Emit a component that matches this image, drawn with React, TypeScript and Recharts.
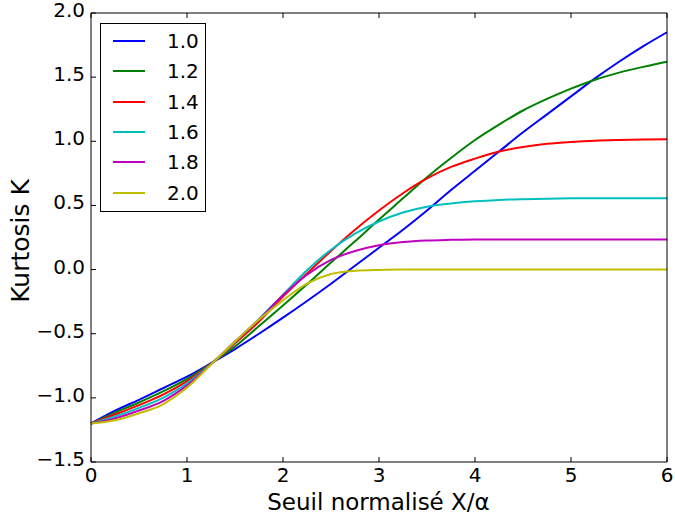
import React from 'react';
import { LineChart, Line, XAxis, YAxis } from 'recharts';

// seuil normalisé X/α
const xs = [0, 0.25, 0.5, 0.75, 1, 1.25, 1.5, 1.75, 2, 2.25, 2.5, 2.75, 3, 3.25, 3.5, 3.75, 4, 4.25, 4.5, 4.75, 5, 5.25, 5.5, 5.75, 6];

// kurtosis pour chaque valeur de beta
const k10 = [-1.2, -1.1, -1.015, -0.925, -0.835, -0.73, -0.62, -0.5, -0.375, -0.245, -0.11, 0.03, 0.17, 0.31, 0.46, 0.62, 0.77, 0.92, 1.07, 1.21, 1.35, 1.49, 1.62, 1.74, 1.85];
const k12 = [-1.2, -1.115, -1.036, -0.95, -0.852, -0.732, -0.6, -0.44, -0.28, -0.115, 0.055, 0.22, 0.39, 0.555, 0.72, 0.87, 1.01, 1.13, 1.24, 1.33, 1.41, 1.48, 1.535, 1.58, 1.62];
const k14 = [-1.2, -1.13, -1.057, -0.975, -0.869, -0.734, -0.575, -0.405, -0.21, -0.03, 0.145, 0.31, 0.46, 0.595, 0.71, 0.8, 0.865, 0.92, 0.955, 0.98, 0.995, 1.005, 1.01, 1.013, 1.015];
const k16 = [-1.2, -1.145, -1.078, -1.0, -0.886, -0.736, -0.565, -0.385, -0.195, -0.005, 0.155, 0.28, 0.375, 0.445, 0.49, 0.515, 0.532, 0.543, 0.549, 0.553, 0.555, 0.556, 0.556, 0.556, 0.556];
const k18 = [-1.2, -1.16, -1.099, -1.025, -0.903, -0.738, -0.56, -0.39, -0.2, -0.04, 0.075, 0.145, 0.19, 0.215, 0.227, 0.232, 0.235, 0.235, 0.235, 0.235, 0.235, 0.235, 0.235, 0.235, 0.235];
const k20 = [-1.2, -1.175, -1.12, -1.05, -0.92, -0.74, -0.56, -0.39, -0.24, -0.11, -0.035, -0.01, -0.003, 0, 0, 0, 0, 0, 0, 0, 0, 0, 0, 0, 0];

const xTicks = [0, 1, 2, 3, 4, 5, 6];
const yTicks = [-1.5, -1.0, -0.5, 0.0, 0.5, 1.0, 1.5, 2.0];

const series = [
  { key: 'k10', name: '1.0', color: '#0000ff', values: k10 },
  { key: 'k12', name: '1.2', color: '#008000', values: k12 },
  { key: 'k14', name: '1.4', color: '#ff0000', values: k14 },
  { key: 'k16', name: '1.6', color: '#00bfbf', values: k16 },
  { key: 'k18', name: '1.8', color: '#bf00bf', values: k18 },
  { key: 'k20', name: '2.0', color: '#bfbf00', values: k20 },
];

const data = xs.map((x, i) => {
  const row: Record<string, number> = { x };
  series.forEach(s => { row[s.key] = s.values[i]; });
  return row;
});

const FONT = '"DejaVu Sans", sans-serif';
const TICK_MARGIN = 8;

const fmtY = (v: number) => v.toFixed(1).replace('-', '\u2212');

const BottomTick = ({ x, y, payload }: any) => (
  <g>
    <line x1={x} x2={x} y1={y - TICK_MARGIN} y2={y - TICK_MARGIN - 5} stroke="#000" />
    <text x={x} y={y + 12} textAnchor="middle" fontSize={20} fontFamily={FONT} fill="#000">{payload.value}</text>
  </g>
);

const TopTick = ({ x, y }: any) => (
  <line x1={x} x2={x} y1={y} y2={y + 5} stroke="#000" />
);

const LeftTick = ({ x, y, payload }: any) => (
  <g>
    <line x1={x + TICK_MARGIN} x2={x + TICK_MARGIN + 5} y1={y} y2={y} stroke="#000" />
    <text x={x + 2} y={y + 4} textAnchor="end" fontSize={20} fontFamily={FONT} fill="#000">{fmtY(payload.value)}</text>
  </g>
);

const RightTick = ({ x, y }: any) => (
  <line x1={x} x2={x - 5} y1={y} y2={y} stroke="#000" />
);

const YLabel = () => (
  <text x={28.5} y={241} transform="rotate(-90, 28.5, 241)" textAnchor="middle" fontSize={25} fontFamily={FONT} fill="#000">Kurtosis K</text>
);

const XLabel = () => (
  <text x={378.5} y={510} textAnchor="middle" fontSize={23} fontFamily={FONT} fill="#000">Seuil normalisé X/α</text>
);

const LegendBox = () => (
  <div style={{ position: 'absolute', left: 100, top: 23, border: '1px solid #000', background: '#fff', width: 106, height: 189, boxSizing: 'border-box' }}>
    {series.map((s, i) => (
      <div key={s.key} style={{ position: 'absolute', left: 12, top: 6 + i * 30.3, height: 22, display: 'flex', alignItems: 'center' }}>
        <div style={{ width: 32, height: 2, background: s.color }} />
        <span style={{ marginLeft: 22, fontSize: 20, fontFamily: FONT, color: '#000', lineHeight: '22px' }}>{s.name}</span>
      </div>
    ))}
  </div>
);

export default function App() {
  return (
    <div style={{ position: 'absolute', left: 0, top: 0, width: 675, height: 516, background: '#fff' }}>
      <LineChart width={675} height={516} data={data} margin={{ top: 12, right: 7, bottom: 0, left: 0 }}>
        <XAxis
          xAxisId="bottom"
          dataKey="x"
          type="number"
          domain={[0, 6]}
          ticks={xTicks}
          interval={0}
          height={54}
          stroke="#000"
          tickLine={false}
          tickSize={0}
          tickMargin={TICK_MARGIN}
          tick={<BottomTick />}
          label={<XLabel />}
        />
        <XAxis
          xAxisId="top"
          orientation="top"
          dataKey="x"
          type="number"
          domain={[0, 6]}
          ticks={xTicks}
          interval={0}
          height={1}
          stroke="#000"
          tickLine={false}
          tickSize={0}
          tickMargin={0}
          tick={<TopTick />}
        />
        <YAxis
          yAxisId="left"
          type="number"
          domain={[-1.5, 2]}
          ticks={yTicks}
          interval={0}
          width={91}
          stroke="#000"
          tickLine={false}
          tickSize={0}
          tickMargin={TICK_MARGIN}
          tick={<LeftTick />}
          label={<YLabel />}
        />
        <YAxis
          yAxisId="right"
          orientation="right"
          type="number"
          domain={[-1.5, 2]}
          ticks={yTicks}
          interval={0}
          width={1}
          stroke="#000"
          tickLine={false}
          tickSize={0}
          tickMargin={0}
          tick={<RightTick />}
        />
        {series.map(s => (
          <Line
            key={s.key}
            xAxisId="bottom"
            yAxisId="left"
            type="monotone"
            dataKey={s.key}
            name={s.name}
            stroke={s.color}
            strokeWidth={2}
            dot={false}
            activeDot={false}
            isAnimationActive={false}
          />
        ))}
      </LineChart>
      <LegendBox />
    </div>
  );
}
